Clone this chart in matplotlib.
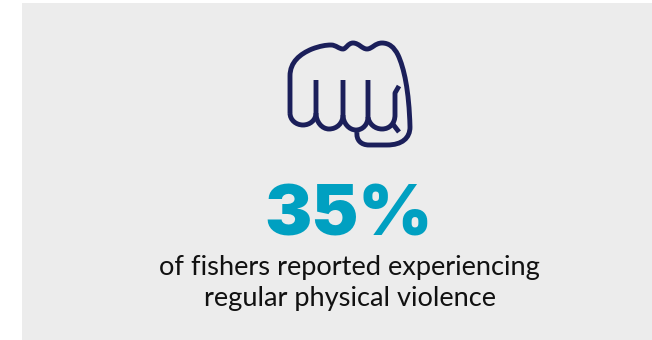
import matplotlib
matplotlib.use("Agg")
import matplotlib.pyplot as plt
from matplotlib.path import Path
from matplotlib.patches import PathPatch, Rectangle

W, H = 652, 340
BG = "#ececec"
NAVY = "#1b1f5a"
TEAL = "#00a0c1"
INK = "#111111"

value_label = "35%"
caption_lines = ["of fishers reported experiencing", "regular physical violence"]

# fist outline, knuckles first, then the finger creases and thumb
M, L, C = Path.MOVETO, Path.LINETO, Path.CURVE4

outline = [
    ((290, 113), M),
    ((290, 76), L), ((290, 62), C), ((300, 54), C), ((312, 49), C),
    ((320, 46), C), ((326, 45), C), ((331, 45), C),
    ((336, 45), C), ((339, 49), C), ((343, 49), C),
    ((346, 49), C), ((348, 43), C), ((353, 43), C),
    ((359, 43), C), ((362, 49), C), ((367, 49), C),
    ((372, 49), C), ((375, 43), C), ((382, 43), C),
    ((389, 43), C), ((394, 47), C), ((398, 55), C),
    ((404, 68), C), ((409, 90), C), ((410, 127), C),
    ((410, 138), C), ((402, 145), C), ((387, 145), C),
    ((369, 145), L), ((361, 145), C), ((356, 140), C), ((357, 132), C),
]
finger1 = [
    ((290, 113), M), ((290, 120), C), ((296, 125), C), ((303, 125), C),
    ((310, 125), C), ((316, 120), C), ((316, 113), C),
]
finger2 = [
    ((316, 80), M), ((316, 113), L), ((316, 122), C), ((322, 129), C), ((329, 129), C),
    ((337, 129), C), ((343, 123), C), ((343, 115), C),
]
finger3 = [
    ((343, 80), M), ((343, 115), L), ((343, 123), C), ((349, 130), C), ((356, 130), C),
    ((363, 130), C), ((368, 124), C), ((368, 117), C),
]
finger4 = [
    ((368, 80), M), ((368, 117), L), ((369, 124), C), ((375, 129), C), ((382, 129), C),
    ((390, 129), C), ((395, 123), C), ((395, 115), C),
    ((395, 93), L), ((399, 86), L),
]
thumb = [((392, 123), M), ((399, 132), L)]

fig = plt.figure(figsize=(W / 100, H / 100), dpi=100)
ax = fig.add_axes([0, 0, 1, 1])
ax.set_xlim(0, W)
ax.set_ylim(H, 0)
ax.axis("off")

ax.add_patch(Rectangle((22, 3), W - 22, H - 3, facecolor=BG, edgecolor="none"))

for part in [outline, finger1, finger2, finger3, finger4, thumb]:
    verts = [p[0] for p in part]
    codes = [p[1] for p in part]
    ax.add_patch(PathPatch(Path(verts, codes), facecolor="none", edgecolor=NAVY,
                           lw=3.5, capstyle="butt", joinstyle="round"))

ax.text(349, 235, value_label, color=TEAL, fontsize=51, fontweight="black",
        family="Inter", ha="center", va="baseline")
ax.text(349.5, 275, caption_lines[0], color=INK, fontsize=19.6, family="Lato",
        ha="center", va="baseline")
ax.text(349.5, 306, caption_lines[1], color=INK, fontsize=19.6, family="Lato",
        ha="center", va="baseline")

fig.savefig("out.png", dpi=100, facecolor="white")
